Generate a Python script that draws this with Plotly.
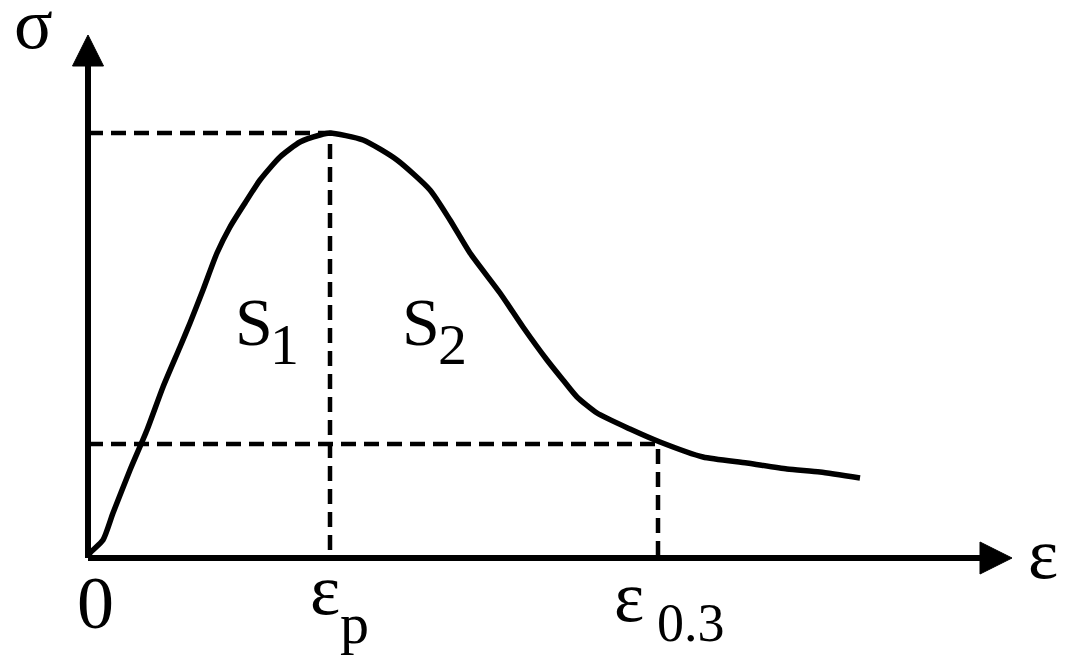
import plotly.graph_objects as go

# stress-strain curve (units: pixels from the origin)
strain = [0, 2, 15, 25, 42, 59, 75, 92, 102, 115, 129, 142, 157, 172, 192,
          212, 232, 242, 275, 309, 342, 362, 382, 412, 435, 459, 475, 489, 509,
          542, 572, 615, 659, 699, 732, 772]
stress = [0, 5, 18, 45, 88, 128, 171, 211, 235, 268, 305, 331, 355, 378, 401,
          416, 423, 425, 418, 398, 368, 338, 305, 265, 231, 198, 178, 161, 145,
          129, 116, 101, 95, 89, 86, 80]

eps_p = 242      # peak strain
sig_p = 425      # peak stress
eps_03 = 570     # strain at 0.3 peak
sig_03 = 114

x_end = 924      # axis arrow tip
y_end = 523

font = "Liberation Serif"
dash = "15px,8px"

fig = go.Figure()

# reference dashed lines
fig.add_trace(go.Scatter(x=[0, eps_p, eps_p], y=[sig_p, sig_p, 0], mode="lines",
                         line=dict(color="black", width=4.5, dash=dash), hoverinfo="skip"))
fig.add_trace(go.Scatter(x=[0, eps_03, eps_03], y=[sig_03, sig_03, 0], mode="lines",
                         line=dict(color="black", width=4.5, dash=dash), hoverinfo="skip"))

# curve
fig.add_trace(go.Scatter(x=strain, y=stress, mode="lines", line_shape="spline",
                         line=dict(color="black", width=5.5, smoothing=0.6),
                         hoverinfo="skip"))

# axes with arrow heads
fig.add_trace(go.Scatter(x=[0, x_end - 25], y=[0, 0], mode="lines",
                         line=dict(color="black", width=6), hoverinfo="skip"))
fig.add_trace(go.Scatter(x=[0, 0], y=[0, y_end - 25], mode="lines",
                         line=dict(color="black", width=6), hoverinfo="skip"))
fig.add_trace(go.Scatter(x=[x_end - 32, x_end, x_end - 32, x_end - 32],
                         y=[16, 0, -16, 16], mode="lines", fill="toself",
                         fillcolor="black", line=dict(color="black", width=1),
                         hoverinfo="skip"))
fig.add_trace(go.Scatter(x=[-15.5, 0, 15.5, -15.5], y=[y_end - 31, y_end, y_end - 31, y_end - 31],
                         mode="lines", fill="toself", fillcolor="black",
                         line=dict(color="black", width=1), hoverinfo="skip"))

labels = [
    (-55, 534, "σ", 72),
    (955, 4, "ε", 72),
    (7, -45, "0", 74),
    (237, -32, "ε", 72),
    (266, -65, "p", 58),
    (541, -39, "ε", 72),
    (603, -65, "0.3", 54),
    (166, 236, "S", 68),
    (196, 214, "1", 58),
    (333, 236, "S", 68),
    (364, 214, "2", 58),
]
for lx, ly, txt, size in labels:
    fig.add_annotation(x=lx, y=ly, text=txt, showarrow=False,
                       font=dict(family=font, size=size, color="black"))

# page body adds an 8px margin, so the ranges are shifted to compensate
fig.update_layout(
    width=1068, height=663,
    margin=dict(l=0, r=0, t=0, b=0),
    paper_bgcolor="white", plot_bgcolor="white",
    showlegend=False,
    xaxis=dict(range=[-80, 988], visible=False, fixedrange=True),
    yaxis=dict(range=[-113, 550], visible=False, fixedrange=True),
)

fig.write_html("out.html")
